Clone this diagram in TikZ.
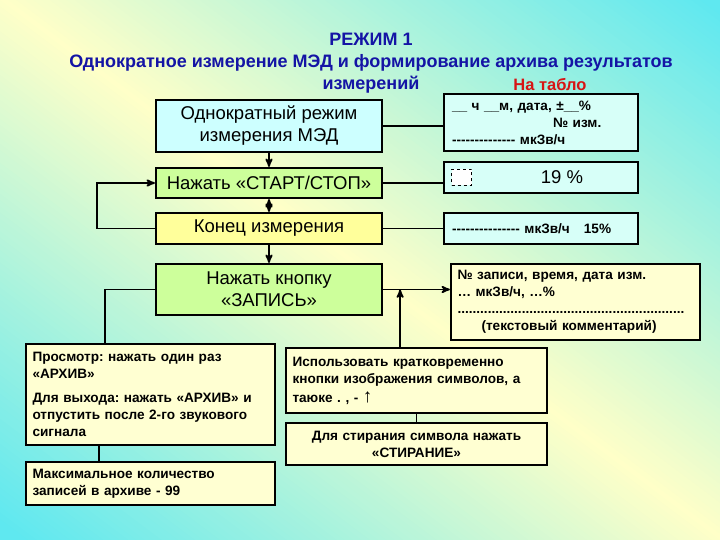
\documentclass[tikz,border=0pt]{standalone}
\usepackage{fontspec}
\setmainfont{Liberation Sans}
\usepackage{tikz}
\usetikzlibrary{arrows}
\frenchspacing
\definecolor{bgyellow}{RGB}{255,255,200}
\definecolor{bgcyan}{RGB}{95,232,240}
\definecolor{titleblue}{RGB}{20,20,165}
\definecolor{tablored}{RGB}{215,20,20}
\definecolor{cyanbox}{RGB}{205,255,255}
\definecolor{greenbox}{RGB}{205,255,155}
\definecolor{yellowbox}{RGB}{255,255,155}
\definecolor{tablofill}{RGB}{215,255,248}
\definecolor{notefill}{RGB}{255,255,210}
\newcommand{\bigtext}{\fontsize{18.5}{22}\selectfont}
\newcommand{\smalltext}{\fontsize{13.6}{17}\selectfont\bfseries}
\newcommand{\titletext}{\fontsize{18}{22}\selectfont\bfseries}
\newcommand{\repdash}[1]{\foreach \k in {1,...,#1}{-\kern0pt}}

\begin{document}
\begin{tikzpicture}[x=1pt,y=-1pt,>=stealth',line width=1.8pt]
 \tikzstyle{mainbox}=[draw,line width=2.2pt,minimum width=226pt,align=center,font=\bigtext]
 \tikzstyle{tablo}=[draw,line width=2.2pt,fill=tablofill,minimum width=194pt,text width=178pt,inner xsep=8pt,align=left,font=\smalltext]
 \tikzstyle{notebox}=[draw,line width=2.2pt,fill=notefill,inner xsep=6.5pt,font=\smalltext]

   % background
   \useasboundingbox (0,0) rectangle (720,540);
   \begin{scope}
    \clip (0,0) rectangle (720,540);
    \foreach \s in {-440,-435,...,440}{
      \pgfmathsetmacro{\p}{min(100,abs(\s)/4.2)}
      \fill[bgcyan!\p!bgyellow] ({-40+0.6*\s},{-30-0.8*\s}) -- ({760+0.6*\s},{570-0.8*\s}) -- ({760+0.6*(\s+8)},{570-0.8*(\s+8)}) -- ({-40+0.6*(\s+8)},{-30-0.8*(\s+8)}) -- cycle;
    }
   \end{scope}

   \node[font=\titletext,text=titleblue,align=center] (title) at (371,63) {РЕЖИМ 1\\Однократное измерение МЭД и формирование архива результатов\\измерений};
   \node[font=\fontsize{16.5}{20}\selectfont\bfseries,text=tablored] (tablotitle) at (550,85) {На табло};

   % main column
   \node[mainbox,fill=cyanbox,minimum height=52pt] (single) at (269,126) {Однократный режим\\измерения МЭД};
   \node[mainbox,fill=greenbox,minimum height=30pt,node distance=57pt] (start) [below of=single] {Нажать «СТАРТ/СТОП»};
   \node[mainbox,fill=yellowbox,minimum height=31pt,node distance=45.5pt] (stop) [below of=start] {Конец измерения};
   \node[mainbox,fill=greenbox,minimum height=51pt,node distance=61pt] (record) [below of=stop] {Нажать кнопку\\«ЗАПИСЬ»};

   % display
   \node[tablo,minimum height=57pt,node distance=272pt,yshift=3.5pt] (screen1) [right of=single] {\_\_ ч \_\_м, дата, ±\_\_\%\\\hspace*{101pt}№ изм.\\\repdash{14} мкЗв/ч};
   \node[tablo,minimum height=31pt,node distance=272pt,yshift=5.5pt] (screen2) [right of=start] {};
   \node[draw,dashed,line width=1.5pt,fill=white,minimum width=20pt,minimum height=16pt,inner sep=0pt,anchor=west] (blank) at ([xshift=8pt]screen2.west) {};
   \node[font=\bigtext] (percent) at ([xshift=21pt]screen2.center) {19 \%};
   \node[tablo,minimum height=31pt,node distance=272pt] (screen3) [right of=stop] {\repdash{15} мкЗв/ч\hspace{14pt}15\%};
   \node[notebox,minimum width=249pt,minimum height=76pt,text width=236pt,align=left,node distance=306.5pt,yshift=-12.5pt] (screen4) [right of=record] {№ записи, время, дата изм.\\… мкЗв/ч, …\%\\\makebox[230pt]{\leaders\hbox{.}\hfill}\\\hspace*{24pt}(текстовый комментарий)};

   % notes
   \node[notebox,minimum width=261pt,minimum height=65pt,text width=248pt,align=left] (symbols) at (416.5,380.5) {Использовать кратковременно\\кнопки изображения символов, а\\[2pt]таюке . , - {\fontsize{19}{17}\selectfont\mdseries ↑}};
   \node[notebox,minimum width=261pt,minimum height=42pt,text width=248pt,align=center,node distance=63.5pt] (erase) [below of=symbols] {Для стирания символа нажать\\«СТИРАНИЕ»};
   \node[notebox,minimum width=249pt,minimum height=101pt,text width=236pt,align=left] (archive) at (150.5,394.5) {Просмотр: нажать один раз\\«АРХИВ»\\[7pt]Для выхода: нажать «АРХИВ» и\\отпустить после 2-го звукового\\сигнала};
   \node[notebox,minimum width=249pt,minimum height=43pt,text width=236pt,align=left,node distance=89pt] (limit) [below of=archive] {Максимальное количество\\записей в архиве - 99};

   \coordinate (joint) at ([xshift=17pt]record.east);

   \path[->]
   (single) edge (start)
   (start) edge[<->] (stop)
   (stop) edge (record)
   (symbols) edge[-] (erase);

   \draw (single.east) -- (single.east -| screen1.west);
   \draw (start.east) -- (start.east -| screen2.west);
   \draw (stop.east) -- (stop.east -| screen3.west);
   \draw[->] (record.east) -- (record.east -| screen4.west);
   \draw[->] (symbols.north -| joint) -- (joint);
   \draw[->] (stop.west) -- ++(-58,0) |- (start.west);
   \draw (record.west) -| ([xshift=-45.5pt]archive.north);
   \draw ([xshift=-51.5pt]archive.south) -- ([xshift=-51.5pt]limit.north);

\end{tikzpicture}
\end{document}
